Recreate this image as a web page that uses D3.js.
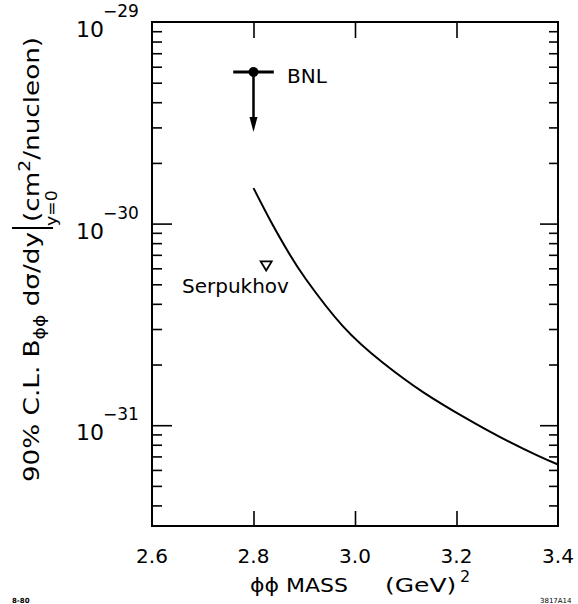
<!DOCTYPE html>
<meta charset="utf-8">
<script src="https://cdnjs.cloudflare.com/ajax/libs/d3/7.8.5/d3.min.js"></script>
<style>
body { margin: 0; background: #fff; }
text { font-family: "DejaVu Sans", sans-serif; fill: #000; }
</style>
<body>
<script>
// width and height
var w = 578;
var h = 604;

// data
var massTicks = [2.6, 2.8, 3.0, 3.2, 3.4];
var decadeExp = [-29, -30, -31];

// 90% C.L. limit curve
var curveMass = [2.80, 2.838, 2.872, 2.903, 2.976, 3.055, 3.134, 3.221, 3.286, 3.359, 3.40];
var curveXsec = [1.5e-30, 9.84e-31, 6.98e-31, 5.31e-31, 3.10e-31, 2.04e-31, 1.46e-31, 1.074e-31, 8.73e-32, 7.08e-32, 6.38e-32];

// BNL upper limit: point, mass range, arrow end
var bnlMass = [2.8];
var bnlXsec = [5.65e-30];
var bnlRange = [2.76, 2.84];
var bnlArrowTo = [2.85e-30];

// Serpukhov point
var serpMass = [2.825];
var serpXsec = [6.2e-31];

var svg = d3.select("body").append("svg")
    .attr("width", w)
    .attr("height", h);

// scales
var xScale = d3.scaleLinear().domain([2.6, 3.4]).range([152, 558]);
var yScale = d3.scaleLog().domain([Math.pow(10, -31.5), 1e-29]).range([526, 22]);

var x0 = xScale.range()[0], x1 = xScale.range()[1];
var y0 = yScale.range()[0], y1 = yScale.range()[1];

// minor / major y ticks
var yTicks = yScale.ticks();
function isMajor(d) { return Math.abs(Math.log10(d) - Math.round(Math.log10(d))) < 1e-6; }

// left axis (ticks inward)
var yLeft = d3.axisRight(yScale).tickValues(yTicks).tickFormat("").tickSizeOuter(0);
var gl = svg.append("g").attr("transform", "translate(" + x0 + ",0)").call(yLeft);
gl.selectAll(".tick line").attr("x2", function(d){ return isMajor(d) ? 20 : 10; });

var yRight = d3.axisLeft(yScale).tickValues(yTicks).tickFormat("").tickSizeOuter(0);
var gr = svg.append("g").attr("transform", "translate(" + x1 + ",0)").call(yRight);
gr.selectAll(".tick line").attr("x2", function(d){ return isMajor(d) ? -18 : -9; });

// x axes (ticks inward)
var inner = massTicks.slice(1, -1);
var xBottom = d3.axisTop(xScale).tickValues(inner).tickFormat("").tickSize(15).tickSizeOuter(0);
svg.append("g").attr("transform", "translate(0," + y0 + ")").call(xBottom);
var xTop = d3.axisBottom(xScale).tickValues(inner).tickFormat("").tickSize(16).tickSizeOuter(0);
svg.append("g").attr("transform", "translate(0," + y1 + ")").call(xTop);

svg.selectAll(".domain").remove();
svg.selectAll(".tick line").attr("stroke", "#000").attr("stroke-width", 1.6);

// frame
svg.append("rect")
  .attr("x", x0).attr("y", y1)
  .attr("width", x1 - x0).attr("height", y0 - y1)
  .attr("fill", "none").attr("stroke", "#000").attr("stroke-width", 2);

// x tick labels
svg.selectAll(".xlab").data(massTicks).enter().append("text")
  .attr("class", "xlab")
  .attr("x", function(d){ return xScale(d); })
  .attr("y", 563)
  .attr("text-anchor", "middle")
  .style("font-size", "20px")
  .text(function(d){ return d.toFixed(1); });

// y tick labels 10^n
var ylab = svg.selectAll(".ylab").data(decadeExp).enter().append("g")
  .attr("class", "ylab")
  .attr("transform", function(d){ return "translate(0," + yScale(Math.pow(10, d)) + ")"; });
ylab.append("text")
  .attr("x", 104).attr("y", 15)
  .attr("text-anchor", "end")
  .style("font-size", "22px")
  .text("10");
ylab.append("text")
  .attr("x", 103).attr("y", -5)
  .style("font-size", "17px")
  .text(function(d){ return "\u2212" + (-d); });

// limit curve
var line = d3.line()
  .x(function(d){ return xScale(d[0]); })
  .y(function(d){ return yScale(d[1]); })
  .curve(d3.curveNatural);
svg.append("path")
  .datum(d3.zip(curveMass, curveXsec))
  .attr("d", line)
  .attr("fill", "none").attr("stroke", "#000").attr("stroke-width", 2);

// BNL marker
var bx = xScale(bnlMass[0]), by = yScale(bnlXsec[0]), ay = yScale(bnlArrowTo[0]);
svg.append("line")
  .attr("x1", xScale(bnlRange[0])).attr("x2", xScale(bnlRange[1]))
  .attr("y1", by).attr("y2", by)
  .attr("stroke", "#000").attr("stroke-width", 3);
svg.append("line")
  .attr("x1", bx).attr("x2", bx).attr("y1", by).attr("y2", ay - 10)
  .attr("stroke", "#000").attr("stroke-width", 2.5);
svg.append("path")
  .attr("d", "M" + (bx - 4) + "," + (ay - 15) + "L" + (bx + 4) + "," + (ay - 15) + "L" + bx + "," + ay + "Z")
  .attr("fill", "#000");
svg.append("circle").attr("cx", bx).attr("cy", by).attr("r", 5).attr("fill", "#000");
svg.append("text")
  .attr("x", 287).attr("y", 83)
  .style("font-size", "20px")
  .text("BNL");

// Serpukhov marker (open down triangle)
var sx = xScale(serpMass[0]), sy = yScale(serpXsec[0]);
svg.append("path")
  .attr("d", "M" + (sx - 5.5) + "," + (sy - 4) + "L" + (sx + 5.5) + "," + (sy - 4) + "L" + sx + "," + (sy + 5) + "Z")
  .attr("fill", "none").attr("stroke", "#000").attr("stroke-width", 1.8);
svg.append("text")
  .attr("x", 182).attr("y", 293)
  .style("font-size", "20px")
  .text("Serpukhov");

// x axis title
svg.append("text")
  .attr("transform", "translate(250,592) scale(1.1,1)")
  .style("font-size", "20px")
  .text("\u03d5\u03d5 MASS");
svg.append("text")
  .attr("transform", "translate(385,592) scale(1.25,1)")
  .style("font-size", "20px")
  .text("(GeV)");
svg.append("text")
  .attr("x", 460).attr("y", 582)
  .style("font-size", "16px")
  .text("2");

// y axis title (rotated)
var ta = svg.append("text")
  .attr("transform", "translate(39,232) rotate(-90) scale(1.25,1)")
  .attr("text-anchor", "end")
  .style("font-size", "21px");
ta.append("tspan").text("90% C.L. B");
ta.append("tspan").attr("dy", 6).style("font-size", "15px").text("\u03d5\u03d5");
ta.append("tspan").attr("dy", -6).text(" d\u03c3/dy");

svg.append("line")
  .attr("x1", 12).attr("x2", 53).attr("y1", 228).attr("y2", 228)
  .attr("stroke", "#000").attr("stroke-width", 2);

svg.append("text")
  .attr("transform", "translate(57,226) rotate(-90) scale(1.15,1)")
  .style("font-size", "15px")
  .text("y=0");

var tb = svg.append("text")
  .attr("transform", "translate(39,222) rotate(-90) scale(1.25,1)")
  .style("font-size", "21px");
tb.append("tspan").text("(cm");
tb.append("tspan").attr("dy", -9).style("font-size", "15px").text("2");
tb.append("tspan").attr("dy", 9).text("/nucleon)");

// small figure codes
svg.append("text").attr("x", 12).attr("y", 603).style("font-size", "7px").style("font-weight", "bold").text("8-80");
svg.append("text").attr("x", 540).attr("y", 603).style("font-size", "7px").text("3817A14");
</script>
</body>
</html>
